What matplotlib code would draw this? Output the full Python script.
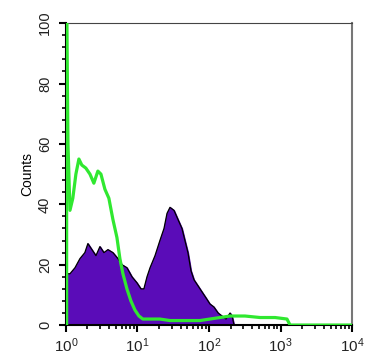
import numpy as np
import matplotlib.pyplot as plt
from matplotlib.ticker import LogLocator, MultipleLocator

# Stained sample (purple, filled)
sample_x = [1.0, 1.14, 1.34, 1.57, 1.84, 2.03, 2.31, 2.63, 2.99, 3.40, 3.87, 4.54,
            5.34, 6.07, 7.13, 8.38, 9.84, 11.2, 12.3, 13.6, 15.0, 17.6, 20.6, 23.5,
            25.9, 28.5, 32.4, 36.8, 41.9, 46.1, 50.8, 56.0, 61.7, 70.2, 79.8, 90.8,
            103, 117, 134, 152, 173, 197, 210, 224]
sample_y = [17, 17, 19, 22, 24, 27, 25, 23, 26, 24, 25, 24,
            22, 20, 19, 16, 14, 12, 12, 16, 19, 23, 28, 32,
            37, 39, 38, 35, 32, 28, 24, 18, 15, 13, 11, 9,
            7, 6, 4, 3, 2, 4, 3, 0]

# Control (green line)
control_x = [1.0, 1.03, 1.07, 1.14, 1.25, 1.38, 1.52, 1.67, 1.90, 2.17, 2.46, 2.80,
             3.09, 3.51, 3.99, 4.54, 5.17, 5.69, 6.27, 7.13, 8.11, 9.22, 10.5, 11.9,
             15.0, 20.6, 28.5, 39.3, 54.2, 74.8, 103, 142, 197, 318, 518, 840,
             1230, 1360, 10000]
control_y = [100, 100, 60, 38, 42, 50, 55, 53, 52, 50, 47, 51,
             50, 45, 42, 35, 29, 22, 17, 12, 8, 5, 3, 2,
             2, 2, 1.5, 1.5, 1.5, 1.5, 2, 2.5, 3, 3, 2.5, 2.5,
             2, 0, 0]

plt.rcParams['font.family'] = ['Liberation Sans', 'DejaVu Sans']

fig = plt.figure(figsize=(3.66, 3.62), dpi=100)
ax = fig.add_axes([0.180, 0.102, 0.782, 0.834])

ax.fill_between(sample_x, sample_y, 0, color='#5a0cb8', zorder=2)
ax.plot(sample_x, sample_y, color='black', lw=0.9, zorder=3)
ax.plot(control_x, control_y, color='#30e830', lw=2.3, zorder=4)
ax.plot([1, 1], [0, 100], color='#30e830', lw=2.5, zorder=4)

ax.set_xscale('log')
ax.set_xlim(1, 10000)
ax.set_ylim(0, 100)
ax.set_xticks([1, 10, 100, 1000, 10000])
ax.xaxis.set_minor_locator(LogLocator(base=10, subs=np.arange(2, 10)))
ax.yaxis.set_major_locator(MultipleLocator(20))
ax.yaxis.set_minor_locator(MultipleLocator(4))

ax.tick_params(axis='x', which='major', labelsize=11)
ax.tick_params(axis='y', which='major', labelsize=10.5, pad=5)
ax.tick_params(axis='both', which='major', direction='out', length=5, width=1.5,
               labelcolor='#222222')
ax.tick_params(axis='both', which='minor', direction='out', length=3, width=1.2)
for lab in ax.get_yticklabels():
    lab.set_rotation(90)
    lab.set_va('center')

ax.set_ylabel('Counts', fontsize=10, labelpad=3)

ax.spines['left'].set_linewidth(1.5)
ax.spines['bottom'].set_linewidth(1.5)
ax.spines['top'].set_color('#444444')
ax.spines['right'].set_color('#777777')
ax.spines['right'].set_linewidth(1.5)

fig.savefig('out.png', dpi=100)
